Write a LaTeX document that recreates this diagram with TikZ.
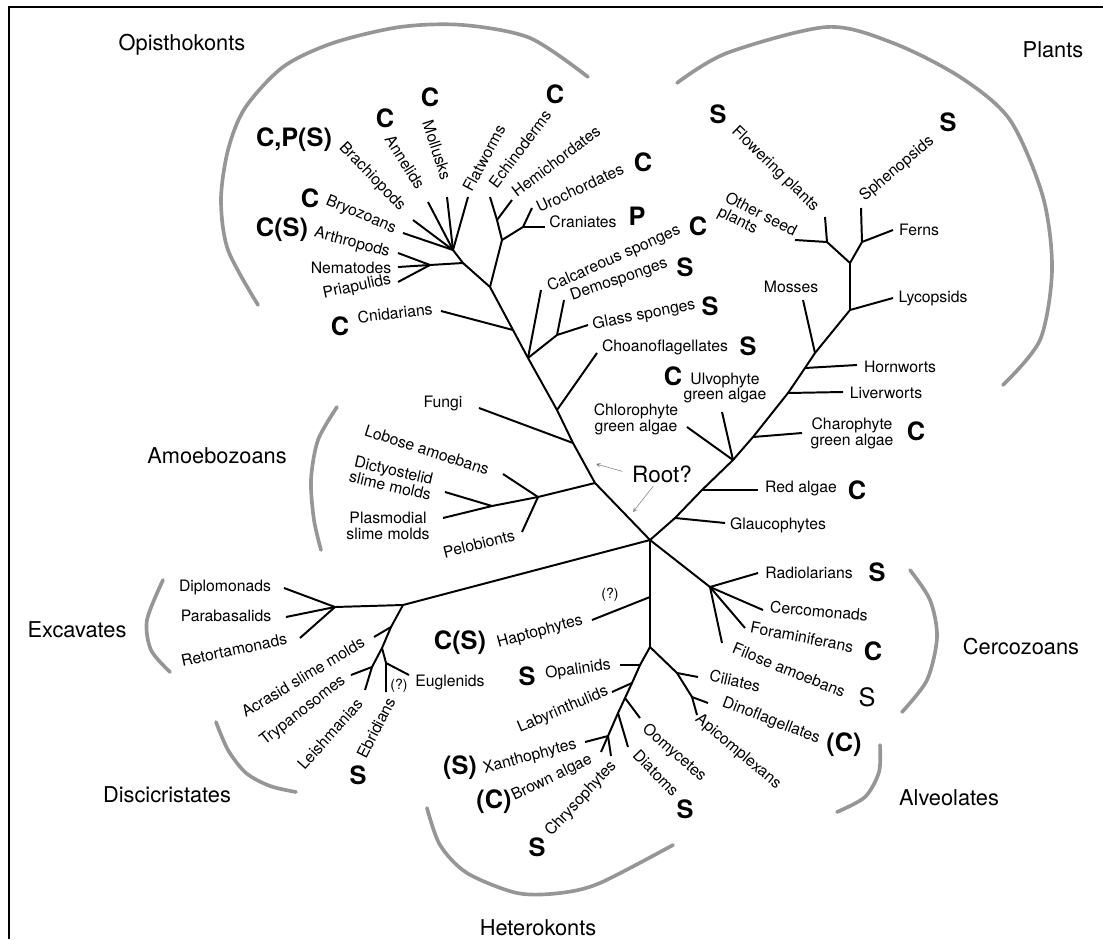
\documentclass[tikz,border=0pt]{standalone}
\usepackage{fontspec}
\setmainfont{TeX Gyre Heros}
\usepackage{tikz}
\usetikzlibrary{arrows,positioning}
\definecolor{arcgray}{RGB}{150,150,150}
\tikzstyle{branch} = [line width=1.4pt, black]
\tikzstyle{taxon} = [inner sep=0pt, font=\fontsize{11.2}{11.2}\selectfont, align=center]
\tikzstyle{symb} = [inner sep=0pt, font=\fontsize{18}{18}\selectfont\bfseries]
\tikzstyle{clade} = [inner sep=0pt, font=\fontsize{15.5}{16}\selectfont]
\tikzstyle{bracket} = [line width=2.6pt, arcgray, line cap=round]
\tikzstyle{rootarrow} = [thin, gray, ->, >=stealth]

\begin{document}
\begin{tikzpicture}[x=0.025cm, y=-0.025cm]
\useasboundingbox (0,0) rectangle (1103,939);
\draw[line width=2pt] (9,939) -- (9,7) -- (1103,7);

% junctions of the tree
\coordinate (root) at (650,540);
\coordinate (amj) at (595,483);
\coordinate (fuj) at (573,443);
\coordinate (chj) at (557,410);
\coordinate (spj) at (528,358);
\coordinate (sgj) at (557,335);
\coordinate (cnj) at (513,330);
\coordinate (dej) at (490,287);
\coordinate (dj1) at (502,240);
\coordinate (dj2) at (497,220);
\coordinate (dj3) at (523,227);
\coordinate (ecj) at (463,263);
\coordinate (edj) at (430,265);
\coordinate (prj) at (453,250);
\coordinate (aj1) at (538,497);
\coordinate (aj2) at (492,506);
\coordinate (glj) at (675,518);
\coordinate (rdj) at (702,490);
\coordinate (grj) at (733,460);
\coordinate (cpj) at (753,437);
\coordinate (lvj) at (788,393);
\coordinate (hwj) at (805,368);
\coordinate (msj) at (815,353);
\coordinate (lyj) at (850,310);
\coordinate (vsj) at (850,263);
\coordinate (sdj) at (827,242);
\coordinate (fnj) at (862,242);
\coordinate (exj) at (403,605);
\coordinate (exk) at (335,607);
\coordinate (dc1) at (391,627);
\coordinate (dc2) at (382,648);
\coordinate (dc3) at (372,667);
\coordinate (dc4) at (386,663);
\coordinate (hpj) at (650,597);
\coordinate (hkj) at (650,647);
\coordinate (hk1) at (640,665);
\coordinate (hk2) at (632,683);
\coordinate (hk3) at (625,698);
\coordinate (hk4) at (618,713);
\coordinate (hk5) at (608,736);
\coordinate (av1) at (677,673);
\coordinate (av2) at (692,697);
\coordinate (cej) at (710,587);

% branch tips
\coordinate (t-brach) at (413,220);
\coordinate (t-annel) at (428,202);
\coordinate (t-moll) at (447,197);
\coordinate (t-flat) at (468,197);
\coordinate (t-bryo) at (403,233);
\coordinate (t-arthro) at (398,253);
\coordinate (t-nema) at (398,267);
\coordinate (t-pria) at (398,282);
\coordinate (t-echino) at (490,197);
\coordinate (t-hemi) at (512,200);
\coordinate (t-uro) at (532,208);
\coordinate (t-crani) at (545,227);
\coordinate (t-cnid) at (441,311);
\coordinate (t-calc) at (541,290);
\coordinate (t-demo) at (564,300);
\coordinate (t-glass) at (588,325);
\coordinate (t-choano) at (597,353);
\coordinate (t-fungi) at (479,408);
\coordinate (t-lobose) at (503,474);
\coordinate (t-pelo) at (522,532);
\coordinate (t-dicty) at (445,492);
\coordinate (t-plasmo) at (443,518);
\coordinate (t-glauco) at (725,523);
\coordinate (t-red) at (758,490);
\coordinate (t-ulvo) at (722,412);
\coordinate (t-chloro) at (687,427);
\coordinate (t-charo) at (802,433);
\coordinate (t-liver) at (843,392);
\coordinate (t-horn) at (857,365);
\coordinate (t-moss) at (803,300);
\coordinate (t-lyco) at (893,298);
\coordinate (t-flower) at (825,217);
\coordinate (t-other) at (795,240);
\coordinate (t-spheno) at (861,208);
\coordinate (t-ferns) at (893,230);
\coordinate (t-diplo) at (284,588);
\coordinate (t-parab) at (286,617);
\coordinate (t-retort) at (300,638);
\coordinate (t-acrasid) at (374,637);
\coordinate (t-tryp) at (351,675);
\coordinate (t-leish) at (365,690);
\coordinate (t-ebrid) at (386,692);
\coordinate (t-eugl) at (409,675);
\coordinate (t-hapto) at (592,620);
\coordinate (t-opal) at (620,665);
\coordinate (t-laby) at (612,692);
\coordinate (t-oomy) at (640,718);
\coordinate (t-diatom) at (628,747);
\coordinate (t-xantho) at (585,742);
\coordinate (t-brown) at (601,752);
\coordinate (t-chryso) at (611,756);
\coordinate (t-cilia) at (698,677);
\coordinate (t-dino) at (708,703);
\coordinate (t-apico) at (697,715);
\coordinate (t-radio) at (758,573);
\coordinate (t-cercom) at (763,610);
\coordinate (t-foram) at (745,628);
\coordinate (t-filose) at (722,643);

% opisthokonts
\draw[branch] (root) -- (amj) -- (fuj) -- (chj) -- (spj) -- (cnj) -- (dej) -- (ecj) -- (prj);
\draw[branch] (dej) -- (dj1) -- (dj2) -- (t-echino);
\draw[branch] (dj2) -- (t-hemi);
\draw[branch] (dj1) -- (dj3) -- (t-uro);
\draw[branch] (dj3) -- (t-crani);
\foreach \t in {brach,annel,moll,flat,bryo}
  \draw[branch] (prj) -- (t-\t);
\draw[branch] (ecj) -- (edj);
\foreach \t in {arthro,nema,pria}
  \draw[branch] (edj) -- (t-\t);
\draw[branch] (cnj) -- (t-cnid);
\draw[branch] (spj) -- (t-calc);
\draw[branch] (spj) -- (sgj) -- (t-demo);
\draw[branch] (sgj) -- (t-glass);
\draw[branch] (chj) -- (t-choano);
\draw[branch] (fuj) -- (t-fungi);
% amoebozoans
\draw[branch] (amj) -- (aj1) -- (aj2) -- (t-dicty);
\draw[branch] (aj2) -- (t-plasmo);
\draw[branch] (aj1) -- (t-lobose);
\draw[branch] (aj1) -- (t-pelo);
% plants
\draw[branch] (root) -- (glj) -- (rdj) -- (grj) -- (cpj) -- (lvj) -- (hwj) -- (msj) -- (lyj) -- (vsj);
\draw[branch] (glj) -- (t-glauco);
\draw[branch] (rdj) -- (t-red);
\draw[branch] (grj) -- (t-ulvo);
\draw[branch] (grj) -- (t-chloro);
\draw[branch] (cpj) -- (t-charo);
\draw[branch] (lvj) -- (t-liver);
\draw[branch] (hwj) -- (t-horn);
\draw[branch] (msj) -- (t-moss);
\draw[branch] (lyj) -- (t-lyco);
\draw[branch] (vsj) -- (sdj) -- (t-flower);
\draw[branch] (sdj) -- (t-other);
\draw[branch] (vsj) -- (fnj) -- (t-spheno);
\draw[branch] (fnj) -- (t-ferns);
% excavates
\draw[branch] (root) -- (exj) -- (exk);
\foreach \t in {diplo,parab,retort}
  \draw[branch] (exk) -- (t-\t);
\draw[branch] (exj) -- (dc1) -- (dc2) -- (dc3) -- (t-leish);
\draw[branch] (dc1) -- (t-acrasid);
\draw[branch] (dc3) -- (t-tryp);
\draw[branch] (dc2) -- (dc4) -- (t-ebrid);
\draw[branch] (dc4) -- (t-eugl);
% heterokonts and alveolates
\draw[branch] (root) -- (hpj) -- (hkj) -- (hk1) -- (hk2) -- (hk3) -- (hk4) -- (hk5) -- (t-xantho);
\draw[branch] (hpj) -- (t-hapto);
\draw[branch] (hk1) -- (t-opal);
\draw[branch] (hk2) -- (t-laby);
\draw[branch] (hk3) -- (t-oomy);
\draw[branch] (hk4) -- (t-diatom);
\draw[branch] (hk5) -- (t-brown);
\draw[branch] (hk5) -- (t-chryso);
\draw[branch] (hkj) -- (av1) -- (av2) -- (t-apico);
\draw[branch] (av1) -- (t-cilia);
\draw[branch] (av2) -- (t-dino);
% cercozoans
\draw[branch] (root) -- (cej);
\foreach \t in {radio,cercom,foram,filose}
  \draw[branch] (cej) -- (t-\t);

% taxon labels
\node[taxon, rotate=-46] (brach) at (372,177) {Brachiopods};
\node[taxon, rotate=-58] (annel) at (405,162) {Annelids};
\node[taxon, rotate=-72] (moll) at (437,150) {Mollusks};
\node[taxon, rotate=62] (flat) at (484,158) {Flatworms};
\node[taxon, rotate=53] (echino) at (520,149) {Echinoderms};
\node[taxon, rotate=37] (hemi) at (556,161) {Hemichordates};
\node[taxon, rotate=25] (uro) at (580,188) {Urochordates};
\node[taxon] (crani) at (583,222) {Craniates};
\node[taxon, rotate=-23] (bryo) at (361,215) {Bryozoans};
\node[taxon, rotate=-15] (arthro) at (352,243) {Arthropods};
\node[taxon] (nema) at (351,268) {Nematodes};
\node[taxon, rotate=12] (pria) at (357,287) {Priapulids};
\node[taxon, rotate=7] (cnid) at (395,313) {Cnidarians};
\node[taxon, rotate=24] (calc) at (614,259) {Calcareous sponges};
\node[taxon, rotate=19] (demo) at (619,280) {Demosponges};
\node[taxon, rotate=11] (glass) at (644,315) {Glass sponges};
\node[taxon] (choano) at (665,347) {Choanoflagellates};
\node[taxon] (fungi) at (443,403) {Fungi};
\node[taxon, rotate=-18] (lobose) at (427,450) {Lobose amoebans};
\node[taxon, rotate=-13] (dicty) at (392,478) {Dictyostelid\\slime molds};
\node[taxon] (plasmo) at (388,526) {Plasmodial\\slime molds};
\node[taxon, rotate=14] (pelo) at (479,544) {Pelobionts};
\node[taxon, rotate=-44] (flower) at (775,169) {Flowering plants};
\node[taxon, rotate=40] (spheno) at (897,169) {Sphenopsids};
\node[taxon, rotate=-27, align=left] (other) at (757,222) {Other seed\\plants};
\node[taxon] (ferns) at (919,230) {Ferns};
\node[taxon] (lyco) at (933,298) {Lycopsids};
\node[taxon] (moss) at (791,287) {Mosses};
\node[taxon] (horn) at (900,367) {Hornworts};
\node[taxon] (liver) at (886,393) {Liverworts};
\node[taxon] (charo) at (852,433) {Charophyte\\green algae};
\node[taxon] (red) at (801,488) {Red algae};
\node[taxon] (glauco) at (778,525) {Glaucophytes};
\node[taxon] (ulvo) at (725,388) {Ulvophyte\\green algae};
\node[taxon] (chloro) at (636,419) {Chlorophyte\\green algae};
\node[taxon] (diplo) at (225,587) {Diplomonads};
\node[taxon] (parab) at (226,616) {Parabasalids};
\node[taxon, rotate=12] (retort) at (234,650) {Retortamonads};
\node[taxon, rotate=31] (acrasid) at (303,677) {Acrasid slime molds};
\node[taxon, rotate=38] (tryp) at (303,711) {Trypanosomes};
\node[taxon, rotate=48] (leish) at (330,734) {Leishmanias};
\node[taxon, rotate=63] (ebrid) at (376,728) {Ebridians};
\node[taxon] (eugl) at (450,682) {Euglenids};
\node[taxon, font=\fontsize{10}{10}\selectfont] (euq) at (399,686) {(?)};
\node[taxon, font=\fontsize{10}{10}\selectfont] (hapq) at (610,595) {(?)};
\node[taxon, rotate=15] (hapto) at (540,632) {Haptophytes};
\node[taxon, rotate=8] (opal) at (578,670) {Opalinids};
\node[taxon, rotate=23] (laby) at (563,710) {Labyrinthulids};
\node[taxon, rotate=15] (xantho) at (530,757) {Xanthophytes};
\node[taxon, rotate=26] (brown) at (552,778) {Brown algae};
\node[taxon, rotate=47] (chryso) at (581,799) {Chrysophytes};
\node[taxon, rotate=-46] (diatom) at (656,773) {Diatoms};
\node[taxon, rotate=-41] (oomy) at (674,753) {Oomycetes};
\node[taxon, rotate=-40] (apico) at (738,752) {Apicomplexans};
\node[taxon, rotate=-13] (cilia) at (735,681) {Ciliates};
\node[taxon, rotate=-21] (dino) at (771,721) {Dinoflagellates};
\node[taxon] (radio) at (809,573) {Radiolarians};
\node[taxon, rotate=-5] (cercom) at (819,611) {Cercomonads};
\node[taxon, rotate=-11] (foram) at (802,637) {Foraminiferans};
\node[taxon, rotate=-22] (filose) at (789,670) {Filose amoebans};

% C / P / S letters
\node[symb] (s1) at (294,140) {C,P(S)};
\node[symb] (s2) at (385,118) {C};
\node[symb] (s3) at (430,97) {C};
\node[symb] (s4) at (555,94) {C};
\node[symb] (s5) at (310,198) {C};
\node[symb] (s6) at (282,230) {C(S)};
\node[symb] (s7) at (643,162) {C};
\node[symb] (s8) at (637,216) {P};
\node[symb] (s9) at (340,326) {C};
\node[symb] (s10) at (698,226) {C};
\node[symb] (s11) at (685,267) {S};
\node[symb] (s12) at (710,306) {S};
\node[symb] (s13) at (748,346) {S};
\node[symb] (s14) at (673,376) {C};
\node[symb] (s15) at (916,431) {C};
\node[symb] (s16) at (857,490) {C};
\node[symb] (s17) at (718,114) {S};
\node[symb] (s18) at (948,122) {S};
\node[symb] (s19) at (460,643) {C(S)};
\node[symb] (s20) at (527,676) {S};
\node[symb] (s21) at (460,768) {(S)};
\node[symb] (s22) at (494,802) {(C)};
\node[symb] (s23) at (537,847) {S};
\node[symb] (s24) at (685,809) {S};
\node[symb] (s25) at (877,572) {S};
\node[symb] (s26) at (873,651) {C};
\node[symb, font=\fontsize{18}{18}\selectfont] (s27) at (867,697) {S};
\node[symb] (s28) at (844,745) {(C)};
\node[symb] (s29) at (358,775) {S};

% root
\node[clade, font=\fontsize{16}{16}\selectfont] (rootq) at (662,474) {Root?};
\coordinate (ra1) at (596,464);
\coordinate (ra2) at (633,512);
\draw[rootarrow, shorten <=7pt] (rootq.west) -- (ra1);
\draw[rootarrow, shorten <=3pt] (rootq.235) -- (ra2);

% groups
\node[clade] (opis) at (182,45) {Opisthokonts};
\node[clade] (plants) at (1053,50) {Plants};
\node[clade] (amoeb) at (217,456) {Amoebozoans};
\node[clade] (excav) at (77,630) {Excavates};
\node[clade] (disci) at (167,795) {Discicristates};
\node[clade] (hetero) at (538,928) {Heterokonts};
\node[clade] (alveo) at (949,798) {Alveolates};
\node[clade] (cercoz) at (1021,647) {Cercozoans};

\draw[bracket] plot[smooth] coordinates {(258,305) (228,250) (221,200) (228,150) (245,108) (283,67) (333,43) (400,27) (463,25) (530,38) (588,77)};
\draw[bracket] plot[smooth] coordinates {(677,83) (727,53) (827,27) (893,43) (960,77) (1010,120) (1043,197) (1052,270) (1040,340) (1003,385)};
\draw[bracket] plot[smooth] coordinates {(337,407) (318,440) (311,480) (314,520) (321,550)};
\draw[bracket] plot[smooth] coordinates {(163,580) (147,620) (151,650) (170,672)};
\draw[bracket] plot[smooth] coordinates {(216,722) (228,750) (246,773) (270,786) (296,792)};
\draw[bracket] plot[smooth] coordinates {(427,808) (440,845) (467,873) (517,893) (560,893) (600,883) (673,845)};
\draw[bracket] plot[smooth] coordinates {(880,745) (879,772) (865,797) (837,812)};
\draw[bracket] plot[smooth] coordinates {(910,570) (930,600) (937,637) (927,680) (902,712)};
\end{tikzpicture}
\end{document}
